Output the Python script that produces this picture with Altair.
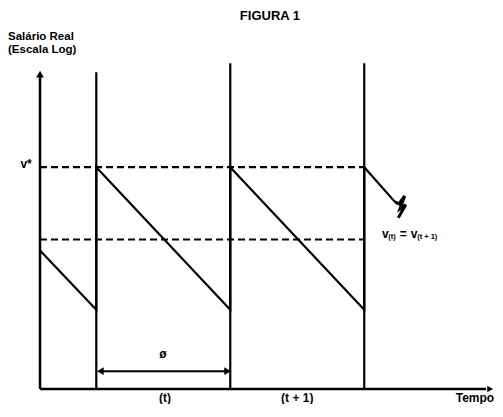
import altair as alt
import pandas as pd

# ---- dimensions of the drawing (plot area = whole svg, padding 0) ----
W, H = 487, 396
X_DOM = [-0.239, 3.396]   # tempo (períodos)
Y_DOM = [-0.1515, 3.848]  # salário real (escala log, unidades arbitrárias)

# ---- data ----
reajustes = [0.42, 1.42, 2.42]          # instantes de reajuste
topo_reajustes = [3.20, 3.29, 3.29]     # altura das linhas verticais
v_star = 2.24                           # pico v*
v_media = 1.51                          # salário médio
saw_x = [0.0, 0.42, 0.42, 1.42, 1.42, 2.42, 2.42, 2.649]
saw_y = [1.40, 0.80, 2.24, 0.80, 2.24, 0.80, 2.24, 1.89]
zig_x = [2.649, 2.679, 2.722, 2.687, 2.730, 2.674]
zig_y = [1.89, 1.87, 1.95, 1.82, 1.86, 1.73]
eixo_y_topo = 3.16
eixo_x_fim = 3.33
seta_y = 0.18
seta_x = [0.47, 1.38]

xs = alt.Scale(domain=X_DOM, nice=False, zero=False)
ys = alt.Scale(domain=Y_DOM, nice=False, zero=False)


def X(f):
    return alt.X(f, type="quantitative", scale=xs, axis=None)


def Y(f):
    return alt.Y(f, type="quantitative", scale=ys, axis=None)


FONT = "Liberation Sans"

# vertical lines
vdf = pd.DataFrame({"x": reajustes, "y0": [0] * 3, "y1": topo_reajustes})
verticais = alt.Chart(vdf).mark_rule(color="black", strokeWidth=2.2).encode(
    x=X("x"), y=Y("y0"), y2="y1")

# dashed lines
ddf = pd.DataFrame({"y": [v_star, v_media], "x0": [0, 0], "x1": [reajustes[-1]] * 2})
tracejadas = alt.Chart(ddf).mark_rule(color="black", strokeWidth=2.2, strokeDash=[7, 4]).encode(
    y=Y("y"), x=X("x0"), x2="x1")

# axes
adf = pd.DataFrame({"x0": [0, 0], "x1": [0, eixo_x_fim], "y0": [0, 0], "y1": [eixo_y_topo, 0]})
eixos = alt.Chart(adf).mark_rule(color="black", strokeWidth=2.5).encode(
    x=X("x0"), x2="x1", y=Y("y0"), y2="y1")

# sawtooth
sdf = pd.DataFrame({"x": saw_x, "y": saw_y, "o": list(range(len(saw_x)))})
serra = alt.Chart(sdf).mark_line(color="black", strokeWidth=2.2).encode(
    x=X("x"), y=Y("y"), order="o")

zdf = pd.DataFrame({"x": zig_x, "y": zig_y, "o": list(range(len(zig_x)))})
zig = alt.Chart(zdf).mark_line(color="black", strokeWidth=3, strokeJoin="miter").encode(
    x=X("x"), y=Y("y"), order="o")

# double arrow (phi)
sedf = pd.DataFrame({"x0": [seta_x[0]], "x1": [seta_x[1]], "y": [seta_y]})
seta = alt.Chart(sedf).mark_rule(color="black", strokeWidth=2).encode(
    x=X("x0"), x2="x1", y=Y("y"))

# arrowheads
tdf = pd.DataFrame({
    "x": [0.0, 3.36, seta_x[0] - 0.02, seta_x[1] + 0.02],
    "y": [3.18, 0.0, seta_y, seta_y],
    "s": ["triangle-up", "triangle-right", "triangle-left", "triangle-right"],
    "sz": [60, 45, 60, 60],
})
pontas = alt.Chart(tdf).mark_point(filled=True, color="black", opacity=1).encode(
    x=X("x"), y=Y("y"), shape=alt.Shape("s:N", scale=None), size=alt.Size("sz:Q", scale=None))

# texts
t_title = pd.DataFrame({"x": [1.716], "y": [3.768], "t": ["FIGURA 1"]})
titulo = alt.Chart(t_title).mark_text(
    font=FONT, fontWeight="bold", fontSize=13, align="center", baseline="middle", color="black"
).encode(x=X("x"), y=Y("y"), text="t:N")

t_center = pd.DataFrame({
    "x": [-0.104, 0.918],
    "y": [2.27, 0.35],
    "t": ["v*", "ø"],
})
textos = alt.Chart(t_center).mark_text(
    font=FONT, fontWeight="bold", fontSize=12, align="center", baseline="middle", color="black"
).encode(x=X("x"), y=Y("y"), text="t:N")

t_bottom = pd.DataFrame({
    "x": [0.933, 1.92],
    "y": [-0.131, -0.131],
    "t": ["(t)", "(t  +  1)"],
})
textos_b = alt.Chart(t_bottom).mark_text(
    font=FONT, fontWeight="bold", fontSize=12, align="center", baseline="alphabetic", color="black"
).encode(x=X("x"), y=Y("y"), text="t:N")

t_tempo = pd.DataFrame({"x": [3.39], "y": [-0.131], "t": ["Tempo"]})
texto_tempo = alt.Chart(t_tempo).mark_text(
    font=FONT, fontWeight="bold", fontSize=12, align="right", baseline="alphabetic", color="black"
).encode(x=X("x"), y=Y("y"), text="t:N")

t_left = pd.DataFrame({
    "x": [-0.239, -0.239],
    "y": [3.56, 3.42],
    "t": ["Salário Real", "(Escala Log)"],
})
textos_y = alt.Chart(t_left).mark_text(
    font=FONT, fontWeight="bold", fontSize=11.5, align="left", baseline="middle", color="black"
).encode(x=X("x"), y=Y("y"), text="t:N")

eq_main = pd.DataFrame({
    "x": [2.578, 2.712, 2.792],
    "y": [1.57, 1.57, 1.57],
    "t": ["v", "=", "v"],
})
eq1 = alt.Chart(eq_main).mark_text(
    font=FONT, fontWeight="bold", fontSize=12, align="center", baseline="middle", color="black"
).encode(x=X("x"), y=Y("y"), text="t:N")

eq_sub = pd.DataFrame({
    "x": [2.600, 2.815],
    "y": [1.54, 1.54],
    "t": ["(t)", "(t + 1)"],
})
eq2 = alt.Chart(eq_sub).mark_text(
    font=FONT, fontWeight="bold", fontSize=7.5, align="left", baseline="middle", color="black"
).encode(x=X("x"), y=Y("y"), text="t:N")

chart = alt.layer(
    tracejadas, verticais, eixos, serra, zig, seta, pontas,
    titulo, textos, textos_b, texto_tempo, textos_y, eq1, eq2
).properties(
    width=W, height=H, padding=0,
    autosize=alt.AutoSizeParams(type="none"),
).configure_view(stroke=None)

chart.save("out.html", embed_options={"renderer": "svg", "actions": False})
